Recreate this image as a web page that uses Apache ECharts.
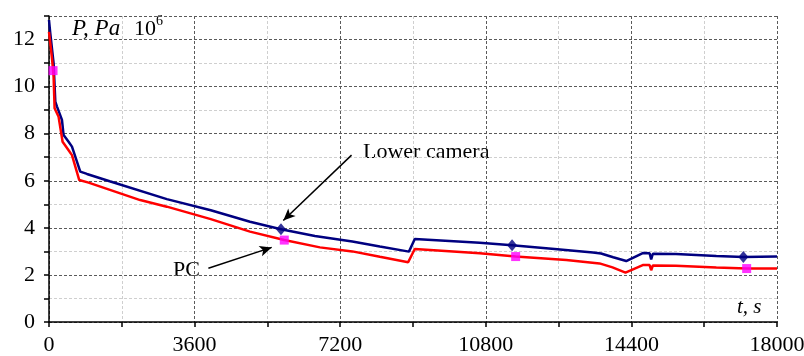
<!DOCTYPE html>
<html>
<head>
<meta charset="utf-8">
<script src="https://cdn.jsdelivr.net/npm/echarts@6/dist/echarts.min.js"></script>
<style>
    html, body { margin: 0; padding: 0; background: #fff; }
    #chart { width: 804px; height: 356px; }
</style>
</head>
<body>
<div id="chart"></div>
<script>
// Lower camera pressure, 10^6 Pa
const timeLower = [0, 32, 114, 156, 198, 321, 361, 484, 568, 773, 938, 1500, 2913, 4000, 4970, 5736, 6575, 7500, 8180, 8900, 9044, 10650, 11450, 12500, 13450, 13650, 13950, 14272, 14681, 14850, 14889, 14930, 15500, 16500, 17168, 18000];
const lowerCamera = [12.83, 12.26, 10.99, 9.36, 9.15, 8.58, 7.94, 7.66, 7.45, 6.39, 6.29, 5.98, 5.22, 4.75, 4.26, 3.94, 3.65, 3.42, 3.21, 2.99, 3.53, 3.37, 3.26, 3.1, 2.95, 2.91, 2.75, 2.59, 2.93, 2.92, 2.66, 2.9, 2.89, 2.8, 2.76, 2.78];

// PC pressure, 10^6 Pa
const timePC = [0, 32, 74, 114, 138, 237, 336, 484, 568, 748, 978, 2254, 2913, 4000, 4970, 5817, 6699, 7500, 8180, 8880, 9044, 10650, 11538, 12790, 13612, 13933, 14254, 14681, 14850, 14889, 14930, 15500, 16500, 17250, 18000];
const pcValues = [12.33, 11.84, 11.2, 10.42, 9.08, 8.72, 7.66, 7.3, 7.09, 6.03, 5.92, 5.18, 4.9, 4.37, 3.84, 3.48, 3.17, 3.0, 2.77, 2.54, 3.1, 2.92, 2.78, 2.63, 2.49, 2.32, 2.1, 2.42, 2.42, 2.2, 2.4, 2.39, 2.32, 2.27, 2.27];

// marker points
const lowerMarkT = [5736, 11450, 17168];
const lowerMarkP = [3.94, 3.26, 2.76];
const pcMarkT = [100, 5817, 11538, 17250];
const pcMarkP = [10.68, 3.48, 2.78, 2.27];

// annotation arrows [start, end] as [t, P]
const arrowLower = [[7481, 7.09], [5793, 4.31]];
const arrowPC = [[3941, 2.28], [5506, 3.17]];

// axis ticks
const xTickStep = 3600;
const yTickStep = 2;

(function () {
    let chart = echarts.init(document.querySelector("#chart"));

    const serif = '"Liberation Serif", "Times New Roman", serif';
    const dark = '#5a5a5a';
    const light = '#cfcfcf';

    const zip = (xs, ys) => xs.map((x, i) => [x, ys[i]]);

    // 0..18000 step 1800 -> dark on major, light on minor
    const xLineColors = [];
    for (let i = 0; i <= 10; i++) xLineColors.push(i % 2 === 0 ? dark : light);
    // 0..13 step 1 -> dark on even values and top border
    const yLineColors = [];
    for (let i = 0; i <= 13; i++) yLineColors.push(i % 2 === 0 || i === 13 ? dark : light);

    let option = {
        animation: false,
        grid: {
            left: 49,
            right: 27,
            top: 16,
            bottom: 34,
            outerBoundsMode: 'none'
        },
        xAxis: {
            type: 'value',
            min: 0,
            max: 18000,
            interval: 1800,
            axisLine: { lineStyle: { color: '#000', width: 1.5 } },
            axisTick: { length: 5, lineStyle: { color: '#000', width: 1.5 } },
            axisLabel: {
                margin: 12,
                color: '#000',
                fontSize: 22,
                fontFamily: serif,
                formatter: v => (v % xTickStep === 0 ? String(v) : '')
            },
            splitLine: {
                show: true,
                lineStyle: { color: xLineColors, type: [3, 2], width: 1 }
            }
        },
        yAxis: {
            type: 'value',
            min: 0,
            max: 13,
            interval: 1,
            axisLine: { show: true, lineStyle: { color: '#000', width: 1.5 } },
            axisTick: { show: true, length: 5, lineStyle: { color: '#000', width: 1.5 } },
            axisLabel: {
                margin: 14,
                color: '#000',
                fontSize: 22,
                fontFamily: serif,
                formatter: v => (v % yTickStep === 0 && v <= 12 ? String(v) : '')
            },
            splitLine: {
                show: true,
                lineStyle: { color: yLineColors, type: [3, 2], width: 1 }
            }
        },
        series: [
            {
                name: 'Lower camera',
                type: 'line',
                data: zip(timeLower, lowerCamera),
                showSymbol: false,
                lineStyle: { color: '#000080', width: 2.5 },
                z: 2,
                markLine: {
                    silent: true,
                    symbol: ['none', 'arrow'],
                    symbolSize: [8, 12],
                    label: { show: false },
                    lineStyle: { color: '#000', width: 1.5, type: 'solid' },
                    data: [
                        [{ coord: arrowLower[0] }, { coord: arrowLower[1] }],
                        [{ coord: arrowPC[0] }, { coord: arrowPC[1] }]
                    ]
                }
            },
            {
                name: 'PC',
                type: 'line',
                data: zip(timePC, pcValues),
                showSymbol: false,
                lineStyle: { color: '#ff0000', width: 2.5 },
                z: 3
            },
            {
                type: 'scatter',
                data: zip(lowerMarkT, lowerMarkP),
                symbol: 'diamond',
                symbolSize: [10, 12],
                itemStyle: { color: '#000080' },
                z: 4
            },
            {
                type: 'scatter',
                data: zip(pcMarkT, pcMarkP),
                symbol: 'rect',
                symbolSize: 9,
                itemStyle: { color: '#ff00ff' },
                z: 4
            }
        ],
        graphic: [
            { type: 'text', x: 72, y: 29, style: { text: 'P, Pa', font: 'italic 23px ' + serif, fill: '#000', verticalAlign: 'middle' } },
            { type: 'text', x: 134, y: 29, style: { text: '10', font: '22px ' + serif, fill: '#000', verticalAlign: 'middle' } },
            { type: 'text', x: 156, y: 21, style: { text: '6', font: '14px ' + serif, fill: '#000', verticalAlign: 'middle' } },
            { type: 'text', x: 737, y: 307, style: { text: 't, s', font: 'italic 21px ' + serif, fill: '#000', verticalAlign: 'middle' } },
            { type: 'text', x: 363, y: 152, style: { text: 'Lower camera', font: '22px ' + serif, fill: '#000', verticalAlign: 'middle' } },
            { type: 'text', x: 173, y: 270, style: { text: 'PC', font: '22px ' + serif, fill: '#000', verticalAlign: 'middle' } }
        ]
    };

    chart.setOption(option);

    function throttle(fn, delay = 32) {
        let t = null;
        return function () {
            if (t) return;
            t = setTimeout(() => {
                fn();
                t = null;
            }, delay);
        };
    }
    window.addEventListener('resize', throttle(() => chart.resize()));
})();
</script>
</body>
</html>
